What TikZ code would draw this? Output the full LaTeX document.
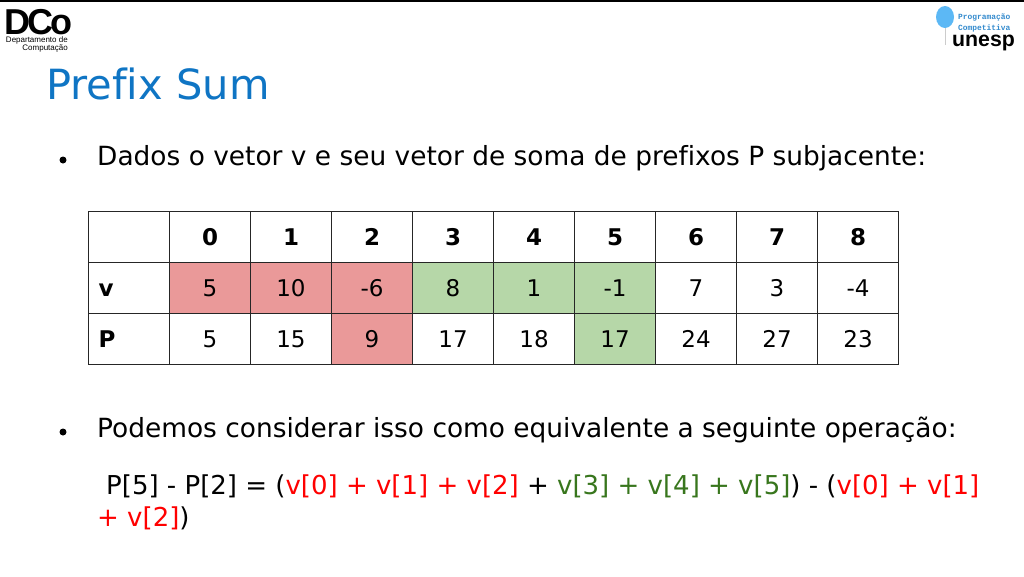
\documentclass[tikz,border=0pt]{standalone}
\usepackage{fontspec}
\setmainfont[Ligatures=NoCommon]{DejaVu Sans}
\newfontfamily\logofont{Liberation Sans}
\newfontfamily\logomono{Liberation Mono}
\definecolor{titleblue}{HTML}{0F75C4}
\definecolor{cellred}{HTML}{EA9999}
\definecolor{cellgreen}{HTML}{B6D7A8}
\definecolor{textgreen}{HTML}{38761D}
\definecolor{balloonblue}{HTML}{5CB8F5}
\newcommand{\rd}[1]{\textcolor{red}{#1}}
\newcommand{\gr}[1]{\textcolor{textgreen}{#1}}
\tikzset{
  body/.style={anchor=base west,inner sep=0pt,font=\fontsize{26.4}{30}\selectfont},
  formula/.style={anchor=base west,inner sep=0pt,font=\fontsize{26}{30}\selectfont},
  tabcell/.style={draw=black!85,line width=0.9pt,minimum width=81pt,minimum height=51pt,inner sep=0pt,text height=17pt,text depth=0pt,font=\fontsize{23}{28}\selectfont},
  tabhead/.style={tabcell,font=\fontsize{23}{28}\selectfont\bfseries},
  logosmall/.style={inner sep=0pt,anchor=base west,text height=5pt,text depth=0pt,font=\logomono\fontsize{7.9}{8}\selectfont\bfseries,text=titleblue!85},
}
\begin{document}
\begin{tikzpicture}[x=1pt,y=-1pt]
  \useasboundingbox (0,0) rectangle (1024,576);
  % top rule
  \fill[black] (0,0) rectangle (1024,1.5);
  % DCo logo
  \node[inner sep=0pt,anchor=base west,text depth=0pt,font=\logofont\fontsize{36}{36}\selectfont\bfseries] (logodco) at (4,34) {D\kern-3ptC\kern-3pto};
  \node[inner sep=0pt,anchor=north east,align=right,font=\logofont\fontsize{8}{7.5}\selectfont] (logotext) at (68,37) {Departamento de\\Computação};
  % unesp logo
  \fill[balloonblue] (945,17) ellipse (9 and 11);
  \draw[gray!40,thin] (945,28) -- (945,45);
  \node[logosmall] (logoprog) at (958,19) {Programação};
  \node[logosmall] (logocomp) at (958,30) {Competitiva};
  \node[inner sep=0pt,anchor=base west,text height=11pt,font=\logofont\fontsize{21.3}{22}\selectfont\bfseries] (logounesp) at (952,46) {unesp};
  % title
  \node[body,text=titleblue,font=\fontsize{41.6}{50}\selectfont] (title) at (46,99.5) {Prefix Sum};
  % first bullet
  \fill[black] (63,160) circle (3.5);
  \node[body] (dados) at (97,165) {Dados o vetor v e seu vetor de soma de prefixos P subjacente:};
  % table
  \foreach \c [count=\i from 0] in {{},0,1,2,3,4,5,6,7,8}{
    \node[tabhead] (h\i) at (\i*81+129,236.5) {\c};
  }
  \foreach \c/\f [count=\i from 1] in {5/cellred,10/cellred,-6/cellred,8/cellgreen,1/cellgreen,-1/cellgreen,7/white,3/white,-4/white}{
    \node[tabcell,fill=\f] (v\i) at (\i*81+129,287.5) {\c};
  }
  \foreach \c/\f [count=\i from 1] in {5/white,15/white,9/cellred,17/white,18/white,17/cellgreen,24/white,27/white,23/white}{
    \node[tabcell,fill=\f] (p\i) at (\i*81+129,338.5) {\c};
  }
  \node[tabhead,text width=61pt] (v0) at (129,287.5) {v};
  \node[tabhead,text width=61pt] (p0) at (129,338.5) {P};
  % second bullet
  \fill[black] (63,432) circle (3.5);
  \node[body] (podemos) at (97,437) {Podemos considerar isso como equivalente a seguinte operação:};
  % formula
  \node[formula] (line1) at (106,494) {P[5] - P[2] = (\rd{v[0] + v[1] + v[2]} + \gr{v[3] + v[4] + v[5]}) - (\rd{v[0] + v[1]}};
  \node[formula] (line2) at (97,526) {\rd{+ v[2]})};
\end{tikzpicture}
\end{document}
